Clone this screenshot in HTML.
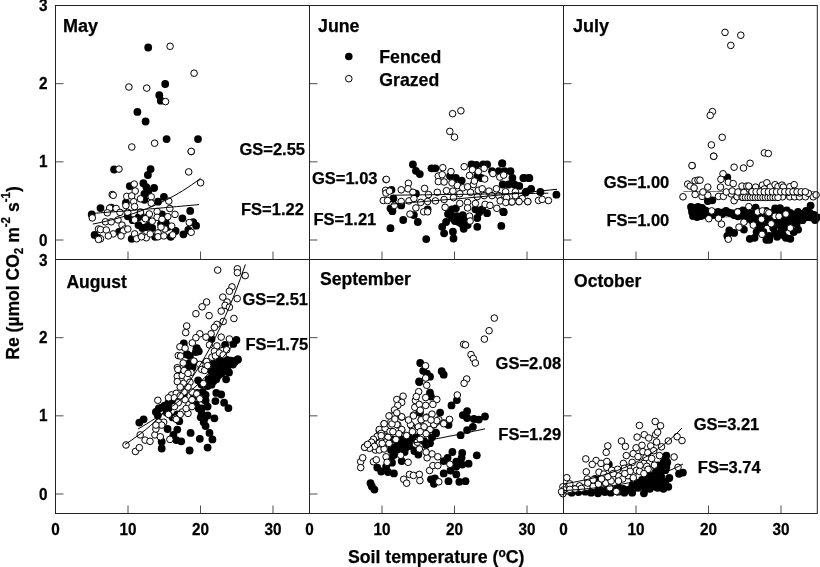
<!DOCTYPE html>
<html lang="en"><head><meta charset="utf-8"><title>Re vs soil temperature</title>
<style>html,body{margin:0;padding:0;background:#fff}svg{display:block}</style></head>
<body>
<svg width="820" height="567" viewBox="0 0 820 567" font-family='"Liberation Sans", Arial, Helvetica, sans-serif' font-weight="bold" fill="#000">
<rect width="820" height="567" fill="#fff"/>
<g id="may">
<g fill="#000">
<circle cx="114.1" cy="169.5" r="3.9"/>
<circle cx="150.6" cy="169.1" r="3.9"/>
<circle cx="147.9" cy="175.0" r="3.9"/>
<circle cx="129.8" cy="186.1" r="3.9"/>
<circle cx="143.4" cy="183.2" r="3.9"/>
<circle cx="146.3" cy="187.1" r="3.9"/>
<circle cx="154.1" cy="188.0" r="3.9"/>
<circle cx="144.4" cy="193.9" r="3.9"/>
<circle cx="148.3" cy="191.0" r="3.9"/>
<circle cx="163.9" cy="196.8" r="3.9"/>
<circle cx="125.9" cy="202.7" r="3.9"/>
<circle cx="158.0" cy="201.7" r="3.9"/>
<circle cx="144.4" cy="199.8" r="3.9"/>
<circle cx="100.5" cy="208.1" r="3.9"/>
<circle cx="190.2" cy="210.9" r="3.9"/>
<circle cx="182.4" cy="218.3" r="3.9"/>
<circle cx="193.2" cy="222.2" r="3.9"/>
<circle cx="196.1" cy="225.7" r="3.9"/>
<circle cx="94.6" cy="234.9" r="3.9"/>
<circle cx="98.5" cy="237.8" r="3.9"/>
<circle cx="131.7" cy="238.8" r="3.9"/>
<circle cx="138.5" cy="225.1" r="3.9"/>
<circle cx="146.3" cy="227.1" r="3.9"/>
<circle cx="152.2" cy="228.0" r="3.9"/>
<circle cx="165.9" cy="223.2" r="3.9"/>
<circle cx="167.8" cy="227.1" r="3.9"/>
<circle cx="175.6" cy="231.0" r="3.9"/>
<circle cx="183.4" cy="234.3" r="3.9"/>
<circle cx="188.3" cy="230.0" r="3.9"/>
<circle cx="170.7" cy="236.8" r="3.9"/>
<circle cx="155.1" cy="236.8" r="3.9"/>
<circle cx="127.8" cy="216.3" r="3.9"/>
<circle cx="132.7" cy="220.2" r="3.9"/>
<circle cx="162.0" cy="214.4" r="3.9"/>
<circle cx="111.2" cy="207.6" r="3.9"/>
<circle cx="140.5" cy="214.4" r="3.9"/>
<circle cx="147.3" cy="217.3" r="3.9"/>
<circle cx="119.0" cy="232.0" r="3.9"/>
<circle cx="91.7" cy="214.4" r="3.9"/>
<circle cx="142.4" cy="228.0" r="3.9"/>
<circle cx="149.3" cy="225.1" r="3.9"/>
<circle cx="161.0" cy="224.1" r="3.9"/>
<circle cx="138.5" cy="217.3" r="3.9"/>
<circle cx="148.2" cy="47.5" r="3.9"/>
<circle cx="165.2" cy="84.0" r="3.9"/>
<circle cx="159.3" cy="95.2" r="3.9"/>
<circle cx="160.8" cy="100.7" r="3.9"/>
<circle cx="137.4" cy="111.9" r="3.9"/>
<circle cx="145.6" cy="121.5" r="3.9"/>
<circle cx="166.6" cy="139.1" r="3.9"/>
<circle cx="198.0" cy="139.1" r="3.9"/>
</g>
<g fill="#fff" stroke="#000" stroke-width="1">
<circle cx="119.0" cy="169.1" r="3.3"/>
<circle cx="191.2" cy="151.6" r="3.3"/>
<circle cx="188.7" cy="171.9" r="3.3"/>
<circle cx="200.6" cy="182.8" r="3.3"/>
<circle cx="134.2" cy="184.1" r="3.3"/>
<circle cx="135.2" cy="191.0" r="3.3"/>
<circle cx="126.8" cy="196.4" r="3.3"/>
<circle cx="131.7" cy="195.9" r="3.3"/>
<circle cx="133.7" cy="201.7" r="3.3"/>
<circle cx="125.9" cy="205.6" r="3.3"/>
<circle cx="134.6" cy="206.6" r="3.3"/>
<circle cx="151.2" cy="196.8" r="3.3"/>
<circle cx="151.2" cy="203.1" r="3.3"/>
<circle cx="168.8" cy="201.1" r="3.3"/>
<circle cx="140.5" cy="198.8" r="3.3"/>
<circle cx="112.2" cy="194.5" r="3.3"/>
<circle cx="113.2" cy="195.3" r="3.3"/>
<circle cx="109.7" cy="208.1" r="3.3"/>
<circle cx="116.1" cy="208.5" r="3.3"/>
<circle cx="107.3" cy="212.8" r="3.3"/>
<circle cx="120.0" cy="212.4" r="3.3"/>
<circle cx="92.3" cy="217.9" r="3.3"/>
<circle cx="127.8" cy="212.4" r="3.3"/>
<circle cx="140.5" cy="212.0" r="3.3"/>
<circle cx="149.3" cy="214.0" r="3.3"/>
<circle cx="157.1" cy="211.5" r="3.3"/>
<circle cx="169.8" cy="208.5" r="3.3"/>
<circle cx="175.0" cy="214.4" r="3.3"/>
<circle cx="167.8" cy="216.7" r="3.3"/>
<circle cx="157.1" cy="217.3" r="3.3"/>
<circle cx="162.0" cy="219.3" r="3.3"/>
<circle cx="145.4" cy="218.7" r="3.3"/>
<circle cx="152.2" cy="221.2" r="3.3"/>
<circle cx="134.6" cy="219.9" r="3.3"/>
<circle cx="105.4" cy="221.8" r="3.3"/>
<circle cx="111.2" cy="221.8" r="3.3"/>
<circle cx="118.0" cy="219.9" r="3.3"/>
<circle cx="122.0" cy="225.1" r="3.3"/>
<circle cx="98.5" cy="229.0" r="3.3"/>
<circle cx="100.5" cy="229.6" r="3.3"/>
<circle cx="106.3" cy="230.0" r="3.3"/>
<circle cx="124.9" cy="229.0" r="3.3"/>
<circle cx="123.3" cy="231.0" r="3.3"/>
<circle cx="127.8" cy="229.0" r="3.3"/>
<circle cx="113.2" cy="233.9" r="3.3"/>
<circle cx="108.3" cy="235.9" r="3.3"/>
<circle cx="100.5" cy="238.8" r="3.3"/>
<circle cx="98.5" cy="239.4" r="3.3"/>
<circle cx="121.0" cy="235.9" r="3.3"/>
<circle cx="134.6" cy="233.9" r="3.3"/>
<circle cx="136.6" cy="238.8" r="3.3"/>
<circle cx="142.4" cy="235.9" r="3.3"/>
<circle cx="146.3" cy="237.8" r="3.3"/>
<circle cx="150.2" cy="233.9" r="3.3"/>
<circle cx="158.0" cy="232.9" r="3.3"/>
<circle cx="158.0" cy="236.8" r="3.3"/>
<circle cx="164.9" cy="229.0" r="3.3"/>
<circle cx="163.9" cy="235.9" r="3.3"/>
<circle cx="171.7" cy="226.1" r="3.3"/>
<circle cx="172.7" cy="234.9" r="3.3"/>
<circle cx="189.3" cy="222.6" r="3.3"/>
<circle cx="191.2" cy="232.3" r="3.3"/>
<circle cx="161.0" cy="227.1" r="3.3"/>
<circle cx="141.5" cy="236.8" r="3.3"/>
<circle cx="170.1" cy="46.3" r="3.3"/>
<circle cx="194.1" cy="73.2" r="3.3"/>
<circle cx="128.9" cy="87.0" r="3.3"/>
<circle cx="146.7" cy="88.1" r="3.3"/>
<circle cx="165.5" cy="101.6" r="3.3"/>
<circle cx="154.6" cy="143.2" r="3.3"/>
<circle cx="131.8" cy="147.0" r="3.3"/>
<circle cx="191.2" cy="151.4" r="3.3"/>
</g>
<polyline fill="none" stroke="#000" stroke-width="1" points="92.7,224.1 97.2,223.2 101.7,222.2 106.2,221.2 110.7,220.1 115.2,218.9 119.7,217.7 124.2,216.4 128.7,215.0 133.2,213.6 137.7,212.0 142.2,210.4 146.7,208.7 151.1,206.9 155.6,204.9 160.1,202.9 164.6,200.7 169.1,198.5 173.6,196.0 178.1,193.5 182.6,190.8 187.1,187.9 191.6,184.9 196.1,181.7 200.6,178.3"/>
<polyline fill="none" stroke="#000" stroke-width="1" points="91.7,213.4 96.2,213.1 100.6,212.8 105.1,212.4 109.6,212.1 114.1,211.8 118.5,211.4 123.0,211.1 127.5,210.7 131.9,210.4 136.4,210.0 140.9,209.7 145.3,209.3 149.8,208.9 154.3,208.6 158.8,208.2 163.2,207.8 167.7,207.4 172.2,207.0 176.6,206.6 181.1,206.2 185.6,205.8 190.1,205.4 194.5,205.0 199.0,204.6"/>
</g>
<g id="jun">
<g fill="#000">
<circle cx="412.9" cy="164.4" r="3.9"/>
<circle cx="415.9" cy="170.8" r="3.9"/>
<circle cx="419.8" cy="174.1" r="3.9"/>
<circle cx="431.5" cy="168.3" r="3.9"/>
<circle cx="435.4" cy="168.3" r="3.9"/>
<circle cx="471.5" cy="164.4" r="3.9"/>
<circle cx="476.3" cy="165.0" r="3.9"/>
<circle cx="483.2" cy="164.4" r="3.9"/>
<circle cx="487.1" cy="164.4" r="3.9"/>
<circle cx="502.3" cy="163.4" r="3.9"/>
<circle cx="492.0" cy="171.2" r="3.9"/>
<circle cx="498.8" cy="171.2" r="3.9"/>
<circle cx="504.6" cy="171.2" r="3.9"/>
<circle cx="510.5" cy="171.2" r="3.9"/>
<circle cx="512.4" cy="178.0" r="3.9"/>
<circle cx="524.1" cy="178.0" r="3.9"/>
<circle cx="529.0" cy="178.0" r="3.9"/>
<circle cx="502.7" cy="184.5" r="3.9"/>
<circle cx="508.5" cy="184.5" r="3.9"/>
<circle cx="514.4" cy="184.5" r="3.9"/>
<circle cx="519.3" cy="185.9" r="3.9"/>
<circle cx="526.1" cy="191.7" r="3.9"/>
<circle cx="450.0" cy="176.1" r="3.9"/>
<circle cx="455.9" cy="178.0" r="3.9"/>
<circle cx="461.7" cy="180.6" r="3.9"/>
<circle cx="477.3" cy="176.1" r="3.9"/>
<circle cx="481.2" cy="178.0" r="3.9"/>
<circle cx="391.5" cy="189.8" r="3.9"/>
<circle cx="393.4" cy="198.5" r="3.9"/>
<circle cx="390.5" cy="208.3" r="3.9"/>
<circle cx="392.4" cy="211.2" r="3.9"/>
<circle cx="401.2" cy="205.4" r="3.9"/>
<circle cx="415.9" cy="193.7" r="3.9"/>
<circle cx="403.2" cy="220.0" r="3.9"/>
<circle cx="390.5" cy="228.2" r="3.9"/>
<circle cx="413.9" cy="215.1" r="3.9"/>
<circle cx="417.8" cy="222.0" r="3.9"/>
<circle cx="427.6" cy="209.3" r="3.9"/>
<circle cx="426.2" cy="239.1" r="3.9"/>
<circle cx="442.2" cy="226.8" r="3.9"/>
<circle cx="444.1" cy="233.3" r="3.9"/>
<circle cx="446.1" cy="222.0" r="3.9"/>
<circle cx="448.0" cy="214.1" r="3.9"/>
<circle cx="452.0" cy="209.3" r="3.9"/>
<circle cx="455.9" cy="208.3" r="3.9"/>
<circle cx="452.9" cy="231.7" r="3.9"/>
<circle cx="453.5" cy="238.5" r="3.9"/>
<circle cx="452.0" cy="218.0" r="3.9"/>
<circle cx="456.8" cy="216.1" r="3.9"/>
<circle cx="458.8" cy="222.0" r="3.9"/>
<circle cx="461.7" cy="223.9" r="3.9"/>
<circle cx="463.7" cy="228.8" r="3.9"/>
<circle cx="465.6" cy="218.0" r="3.9"/>
<circle cx="467.6" cy="224.9" r="3.9"/>
<circle cx="477.3" cy="218.0" r="3.9"/>
<circle cx="477.3" cy="226.8" r="3.9"/>
<circle cx="479.3" cy="212.2" r="3.9"/>
<circle cx="487.1" cy="213.2" r="3.9"/>
<circle cx="503.7" cy="212.2" r="3.9"/>
<circle cx="501.3" cy="225.9" r="3.9"/>
<circle cx="475.4" cy="209.3" r="3.9"/>
<circle cx="482.2" cy="209.3" r="3.9"/>
<circle cx="459.8" cy="218.0" r="3.9"/>
<circle cx="454.9" cy="221.0" r="3.9"/>
<circle cx="462.7" cy="215.1" r="3.9"/>
<circle cx="450.0" cy="213.2" r="3.9"/>
<circle cx="523.3" cy="178.1" r="3.9"/>
<circle cx="529.3" cy="178.1" r="3.9"/>
<circle cx="502.1" cy="163.3" r="3.9"/>
<circle cx="503.3" cy="211.7" r="3.9"/>
<circle cx="531.1" cy="188.9" r="3.9"/>
<circle cx="540.4" cy="192.0" r="3.9"/>
<circle cx="525.6" cy="192.6" r="3.9"/>
<circle cx="556.4" cy="194.7" r="3.9"/>
</g>
<g fill="#fff" stroke="#000" stroke-width="1">
<circle cx="386.0" cy="179.6" r="3.3"/>
<circle cx="408.4" cy="183.3" r="3.3"/>
<circle cx="442.8" cy="167.7" r="3.3"/>
<circle cx="451.0" cy="171.6" r="3.3"/>
<circle cx="464.2" cy="166.7" r="3.3"/>
<circle cx="472.4" cy="169.7" r="3.3"/>
<circle cx="478.3" cy="171.6" r="3.3"/>
<circle cx="484.1" cy="168.3" r="3.3"/>
<circle cx="492.9" cy="173.6" r="3.3"/>
<circle cx="499.8" cy="177.1" r="3.3"/>
<circle cx="503.7" cy="175.1" r="3.3"/>
<circle cx="484.7" cy="179.0" r="3.3"/>
<circle cx="469.5" cy="175.5" r="3.3"/>
<circle cx="438.3" cy="176.1" r="3.3"/>
<circle cx="442.2" cy="174.7" r="3.3"/>
<circle cx="438.3" cy="181.6" r="3.3"/>
<circle cx="444.1" cy="182.0" r="3.3"/>
<circle cx="452.0" cy="182.9" r="3.3"/>
<circle cx="457.4" cy="185.5" r="3.3"/>
<circle cx="462.7" cy="187.8" r="3.3"/>
<circle cx="467.6" cy="186.8" r="3.3"/>
<circle cx="473.4" cy="184.5" r="3.3"/>
<circle cx="474.4" cy="181.0" r="3.3"/>
<circle cx="478.3" cy="190.3" r="3.3"/>
<circle cx="482.2" cy="188.8" r="3.3"/>
<circle cx="489.0" cy="191.1" r="3.3"/>
<circle cx="496.4" cy="188.8" r="3.3"/>
<circle cx="505.6" cy="191.7" r="3.3"/>
<circle cx="515.4" cy="191.7" r="3.3"/>
<circle cx="385.6" cy="190.3" r="3.3"/>
<circle cx="386.0" cy="193.1" r="3.3"/>
<circle cx="389.5" cy="191.1" r="3.3"/>
<circle cx="401.2" cy="189.8" r="3.3"/>
<circle cx="408.0" cy="188.8" r="3.3"/>
<circle cx="412.9" cy="192.3" r="3.3"/>
<circle cx="424.6" cy="188.4" r="3.3"/>
<circle cx="428.5" cy="194.6" r="3.3"/>
<circle cx="437.3" cy="192.3" r="3.3"/>
<circle cx="446.5" cy="190.7" r="3.3"/>
<circle cx="452.9" cy="191.1" r="3.3"/>
<circle cx="459.8" cy="193.7" r="3.3"/>
<circle cx="470.5" cy="192.3" r="3.3"/>
<circle cx="477.3" cy="196.6" r="3.3"/>
<circle cx="484.1" cy="195.6" r="3.3"/>
<circle cx="492.0" cy="195.6" r="3.3"/>
<circle cx="498.8" cy="195.6" r="3.3"/>
<circle cx="506.6" cy="197.6" r="3.3"/>
<circle cx="515.4" cy="195.6" r="3.3"/>
<circle cx="522.2" cy="198.5" r="3.3"/>
<circle cx="383.3" cy="200.5" r="3.3"/>
<circle cx="387.6" cy="200.5" r="3.3"/>
<circle cx="394.4" cy="205.4" r="3.3"/>
<circle cx="401.2" cy="201.5" r="3.3"/>
<circle cx="409.0" cy="200.9" r="3.3"/>
<circle cx="413.9" cy="198.5" r="3.3"/>
<circle cx="420.7" cy="202.4" r="3.3"/>
<circle cx="427.6" cy="201.5" r="3.3"/>
<circle cx="435.4" cy="200.9" r="3.3"/>
<circle cx="444.1" cy="199.5" r="3.3"/>
<circle cx="453.5" cy="197.6" r="3.3"/>
<circle cx="459.8" cy="203.4" r="3.3"/>
<circle cx="467.6" cy="202.4" r="3.3"/>
<circle cx="475.4" cy="203.4" r="3.3"/>
<circle cx="485.1" cy="204.4" r="3.3"/>
<circle cx="490.0" cy="205.4" r="3.3"/>
<circle cx="496.8" cy="208.3" r="3.3"/>
<circle cx="500.7" cy="200.5" r="3.3"/>
<circle cx="511.5" cy="202.0" r="3.3"/>
<circle cx="518.7" cy="201.5" r="3.3"/>
<circle cx="527.7" cy="201.5" r="3.3"/>
<circle cx="415.9" cy="207.9" r="3.3"/>
<circle cx="410.0" cy="214.1" r="3.3"/>
<circle cx="423.7" cy="211.8" r="3.3"/>
<circle cx="427.6" cy="211.8" r="3.3"/>
<circle cx="445.1" cy="207.3" r="3.3"/>
<circle cx="467.6" cy="207.9" r="3.3"/>
<circle cx="469.5" cy="216.1" r="3.3"/>
<circle cx="470.1" cy="221.0" r="3.3"/>
<circle cx="452.6" cy="113.7" r="3.3"/>
<circle cx="460.9" cy="110.8" r="3.3"/>
<circle cx="449.8" cy="131.4" r="3.3"/>
<circle cx="454.5" cy="137.1" r="3.3"/>
<circle cx="386.3" cy="179.4" r="3.3"/>
<circle cx="500.2" cy="200.9" r="3.3"/>
<circle cx="505.8" cy="202.5" r="3.3"/>
<circle cx="512.0" cy="201.9" r="3.3"/>
<circle cx="519.1" cy="201.6" r="3.3"/>
<circle cx="527.8" cy="201.6" r="3.3"/>
<circle cx="538.5" cy="200.4" r="3.3"/>
<circle cx="548.4" cy="200.6" r="3.3"/>
<circle cx="542.2" cy="199.4" r="3.3"/>
</g>
<polyline fill="none" stroke="#000" stroke-width="1" points="394.5,195.2 400.9,195.1 407.3,195.0 413.7,195.0 420.1,194.9 426.6,194.8 433.0,194.7 439.4,194.6 445.8,194.5 452.2,194.5 458.6,194.4 465.0,194.3 471.4,194.2 477.9,194.1 484.3,194.0 490.7,194.0 497.1,193.9 503.5,193.8 509.9,193.7 516.3,193.6 522.8,193.5 529.2,193.5 535.6,193.4 542.0,193.3 548.4,193.2"/>
<polyline fill="none" stroke="#000" stroke-width="1" points="392.0,204.0 398.9,203.5 405.8,203.0 412.6,202.4 419.5,201.9 426.4,201.3 433.2,200.8 440.1,200.2 447.0,199.6 453.9,199.1 460.8,198.5 467.6,197.9 474.5,197.3 481.4,196.7 488.2,196.0 495.1,195.4 502.0,194.8 508.9,194.1 515.8,193.5 522.6,192.8 529.5,192.1 536.4,191.4 543.2,190.7 550.1,190.0 557.0,189.3"/>
</g>
<g id="jul">
<polyline fill="none" stroke="#777" stroke-width="1" points="691.0,216.9 696.2,216.9 701.4,216.9 706.6,216.9 711.8,216.9 717.0,216.9 722.2,216.9 727.5,216.9 732.7,216.9 737.9,216.9 743.1,216.9 748.3,216.9 753.5,216.9 758.7,216.9 763.9,216.9 769.1,216.9 774.3,216.9 779.5,216.9 784.8,216.9 790.0,216.9 795.2,216.9 800.4,216.9 805.6,216.9 810.8,216.9 816.0,216.9"/>
<g fill="#000">
<circle cx="727.3" cy="177.3" r="3.9"/>
<circle cx="707.8" cy="201.1" r="3.9"/>
<circle cx="712.3" cy="200.3" r="3.9"/>
<circle cx="692.2" cy="208.9" r="3.9"/>
<circle cx="697.1" cy="208.5" r="3.9"/>
<circle cx="702.0" cy="208.5" r="3.9"/>
<circle cx="695.1" cy="212.4" r="3.9"/>
<circle cx="700.0" cy="213.4" r="3.9"/>
<circle cx="704.9" cy="214.4" r="3.9"/>
<circle cx="709.8" cy="215.4" r="3.9"/>
<circle cx="695.1" cy="215.4" r="3.9"/>
<circle cx="723.4" cy="212.4" r="3.9"/>
<circle cx="728.3" cy="212.4" r="3.9"/>
<circle cx="733.2" cy="213.4" r="3.9"/>
<circle cx="738.0" cy="216.3" r="3.9"/>
<circle cx="742.9" cy="210.5" r="3.9"/>
<circle cx="745.9" cy="212.4" r="3.9"/>
<circle cx="749.8" cy="214.4" r="3.9"/>
<circle cx="755.6" cy="207.6" r="3.9"/>
<circle cx="753.7" cy="216.3" r="3.9"/>
<circle cx="759.5" cy="216.3" r="3.9"/>
<circle cx="765.4" cy="216.3" r="3.9"/>
<circle cx="770.2" cy="214.4" r="3.9"/>
<circle cx="775.1" cy="208.5" r="3.9"/>
<circle cx="780.0" cy="208.1" r="3.9"/>
<circle cx="781.0" cy="212.4" r="3.9"/>
<circle cx="786.8" cy="210.5" r="3.9"/>
<circle cx="790.7" cy="213.4" r="3.9"/>
<circle cx="796.6" cy="215.4" r="3.9"/>
<circle cx="801.5" cy="216.3" r="3.9"/>
<circle cx="806.0" cy="212.4" r="3.9"/>
<circle cx="810.6" cy="205.6" r="3.9"/>
<circle cx="810.2" cy="217.3" r="3.9"/>
<circle cx="814.1" cy="216.3" r="3.9"/>
<circle cx="817.1" cy="217.3" r="3.9"/>
<circle cx="794.6" cy="222.2" r="3.9"/>
<circle cx="788.8" cy="221.2" r="3.9"/>
<circle cx="782.9" cy="221.2" r="3.9"/>
<circle cx="777.1" cy="220.2" r="3.9"/>
<circle cx="802.4" cy="220.2" r="3.9"/>
<circle cx="729.3" cy="230.4" r="3.9"/>
<circle cx="734.1" cy="232.9" r="3.9"/>
<circle cx="727.3" cy="235.9" r="3.9"/>
<circle cx="743.9" cy="229.6" r="3.9"/>
<circle cx="749.8" cy="238.8" r="3.9"/>
<circle cx="754.6" cy="237.8" r="3.9"/>
<circle cx="756.6" cy="232.0" r="3.9"/>
<circle cx="759.5" cy="228.0" r="3.9"/>
<circle cx="761.5" cy="225.1" r="3.9"/>
<circle cx="766.3" cy="239.8" r="3.9"/>
<circle cx="769.3" cy="235.9" r="3.9"/>
<circle cx="769.3" cy="239.8" r="3.9"/>
<circle cx="775.1" cy="232.9" r="3.9"/>
<circle cx="781.0" cy="232.0" r="3.9"/>
<circle cx="783.9" cy="228.0" r="3.9"/>
<circle cx="785.9" cy="237.8" r="3.9"/>
<circle cx="790.3" cy="238.8" r="3.9"/>
<circle cx="793.7" cy="232.0" r="3.9"/>
<circle cx="798.1" cy="229.6" r="3.9"/>
<circle cx="751.7" cy="220.2" r="3.9"/>
<circle cx="765.4" cy="222.2" r="3.9"/>
<circle cx="784.9" cy="224.1" r="3.9"/>
<circle cx="714.6" cy="214.4" r="3.9"/>
<circle cx="718.5" cy="213.4" r="3.9"/>
<circle cx="742.0" cy="215.4" r="3.9"/>
<circle cx="746.8" cy="217.3" r="3.9"/>
<circle cx="775.1" cy="215.4" r="3.9"/>
<circle cx="784.9" cy="216.3" r="3.9"/>
<circle cx="792.7" cy="217.3" r="3.9"/>
<circle cx="798.5" cy="217.3" r="3.9"/>
<circle cx="806.3" cy="217.3" r="3.9"/>
<circle cx="699.0" cy="210.5" r="3.9"/>
<circle cx="693.2" cy="211.5" r="3.9"/>
<circle cx="704.9" cy="210.5" r="3.9"/>
<circle cx="757.6" cy="221.2" r="3.9"/>
<circle cx="771.2" cy="219.3" r="3.9"/>
<circle cx="779.0" cy="225.1" r="3.9"/>
<circle cx="773.2" cy="228.0" r="3.9"/>
<circle cx="763.4" cy="232.0" r="3.9"/>
<circle cx="777.1" cy="236.8" r="3.9"/>
<circle cx="782.9" cy="234.9" r="3.9"/>
<circle cx="796.6" cy="224.1" r="3.9"/>
<circle cx="691.0" cy="207.0" r="3.9"/>
<circle cx="694.0" cy="208.0" r="3.9"/>
<circle cx="698.0" cy="207.0" r="3.9"/>
<circle cx="702.0" cy="208.0" r="3.9"/>
<circle cx="692.0" cy="212.0" r="3.9"/>
<circle cx="696.0" cy="213.0" r="3.9"/>
<circle cx="700.0" cy="213.0" r="3.9"/>
<circle cx="704.0" cy="212.0" r="3.9"/>
<circle cx="693.0" cy="216.0" r="3.9"/>
<circle cx="697.0" cy="217.0" r="3.9"/>
<circle cx="701.0" cy="216.0" r="3.9"/>
<circle cx="706.0" cy="215.0" r="3.9"/>
<circle cx="706.0" cy="211.0" r="3.9"/>
<circle cx="710.0" cy="213.0" r="3.9"/>
<circle cx="714.0" cy="215.0" r="3.9"/>
<circle cx="718.0" cy="212.0" r="3.9"/>
<circle cx="722.0" cy="214.0" r="3.9"/>
<circle cx="726.0" cy="211.0" r="3.9"/>
<circle cx="730.0" cy="213.0" r="3.9"/>
<circle cx="734.0" cy="215.0" r="3.9"/>
<circle cx="738.0" cy="212.0" r="3.9"/>
<circle cx="742.0" cy="214.0" r="3.9"/>
<circle cx="746.0" cy="211.0" r="3.9"/>
<circle cx="750.0" cy="213.0" r="3.9"/>
<circle cx="754.0" cy="215.0" r="3.9"/>
<circle cx="758.0" cy="212.0" r="3.9"/>
<circle cx="762.0" cy="214.0" r="3.9"/>
<circle cx="766.0" cy="211.0" r="3.9"/>
<circle cx="770.0" cy="213.0" r="3.9"/>
<circle cx="774.0" cy="215.0" r="3.9"/>
<circle cx="778.0" cy="212.0" r="3.9"/>
<circle cx="782.0" cy="214.0" r="3.9"/>
<circle cx="786.0" cy="211.0" r="3.9"/>
<circle cx="790.0" cy="213.0" r="3.9"/>
<circle cx="794.0" cy="215.0" r="3.9"/>
<circle cx="798.0" cy="212.0" r="3.9"/>
<circle cx="802.0" cy="214.0" r="3.9"/>
<circle cx="806.0" cy="211.0" r="3.9"/>
<circle cx="810.0" cy="213.0" r="3.9"/>
<circle cx="814.0" cy="215.0" r="3.9"/>
<circle cx="740.0" cy="215.0" r="3.9"/>
<circle cx="745.0" cy="220.0" r="3.9"/>
<circle cx="750.0" cy="218.0" r="3.9"/>
<circle cx="755.0" cy="216.0" r="3.9"/>
<circle cx="760.0" cy="221.0" r="3.9"/>
<circle cx="765.0" cy="219.0" r="3.9"/>
<circle cx="770.0" cy="217.0" r="3.9"/>
<circle cx="775.0" cy="215.0" r="3.9"/>
<circle cx="780.0" cy="220.0" r="3.9"/>
<circle cx="785.0" cy="218.0" r="3.9"/>
<circle cx="790.0" cy="216.0" r="3.9"/>
<circle cx="795.0" cy="221.0" r="3.9"/>
<circle cx="800.0" cy="219.0" r="3.9"/>
<circle cx="805.0" cy="217.0" r="3.9"/>
<circle cx="810.0" cy="215.0" r="3.9"/>
<circle cx="815.0" cy="220.0" r="3.9"/>
</g>
<polyline fill="none" stroke="#777" stroke-width="1" points="683.4,191.5 688.9,191.5 694.4,191.5 700.0,191.5 705.5,191.5 711.0,191.5 716.5,191.5 722.1,191.5 727.6,191.5 733.1,191.5 738.6,191.5 744.2,191.5 749.7,191.5 755.2,191.5 760.8,191.5 766.3,191.5 771.8,191.5 777.3,191.5 782.9,191.5 788.4,191.5 793.9,191.5 799.4,191.5 805.0,191.5 810.5,191.5 816.0,191.5"/>
<g fill="#fff" stroke="#000" stroke-width="1">
<circle cx="713.7" cy="156.2" r="3.3"/>
<circle cx="692.2" cy="165.6" r="3.3"/>
<circle cx="734.1" cy="167.2" r="3.3"/>
<circle cx="743.5" cy="168.0" r="3.3"/>
<circle cx="750.1" cy="163.3" r="3.3"/>
<circle cx="764.4" cy="152.9" r="3.3"/>
<circle cx="768.3" cy="153.5" r="3.3"/>
<circle cx="723.0" cy="173.8" r="3.3"/>
<circle cx="720.9" cy="179.3" r="3.3"/>
<circle cx="695.1" cy="180.8" r="3.3"/>
<circle cx="698.0" cy="180.2" r="3.3"/>
<circle cx="700.0" cy="180.2" r="3.3"/>
<circle cx="687.7" cy="184.1" r="3.3"/>
<circle cx="690.2" cy="186.1" r="3.3"/>
<circle cx="694.1" cy="188.0" r="3.3"/>
<circle cx="728.3" cy="182.2" r="3.3"/>
<circle cx="733.2" cy="183.6" r="3.3"/>
<circle cx="707.8" cy="187.1" r="3.3"/>
<circle cx="720.5" cy="187.1" r="3.3"/>
<circle cx="742.0" cy="186.1" r="3.3"/>
<circle cx="746.8" cy="186.1" r="3.3"/>
<circle cx="748.8" cy="186.1" r="3.3"/>
<circle cx="755.6" cy="187.1" r="3.3"/>
<circle cx="762.4" cy="185.1" r="3.3"/>
<circle cx="766.9" cy="182.8" r="3.3"/>
<circle cx="770.2" cy="187.1" r="3.3"/>
<circle cx="775.1" cy="184.7" r="3.3"/>
<circle cx="778.0" cy="186.7" r="3.3"/>
<circle cx="782.0" cy="185.1" r="3.3"/>
<circle cx="783.3" cy="187.1" r="3.3"/>
<circle cx="789.8" cy="186.7" r="3.3"/>
<circle cx="794.2" cy="184.7" r="3.3"/>
<circle cx="764.4" cy="189.0" r="3.3"/>
<circle cx="683.0" cy="196.8" r="3.3"/>
<circle cx="695.1" cy="194.5" r="3.3"/>
<circle cx="702.0" cy="196.4" r="3.3"/>
<circle cx="707.8" cy="195.3" r="3.3"/>
<circle cx="718.5" cy="196.4" r="3.3"/>
<circle cx="723.4" cy="196.4" r="3.3"/>
<circle cx="731.2" cy="193.9" r="3.3"/>
<circle cx="734.1" cy="200.7" r="3.3"/>
<circle cx="737.1" cy="196.8" r="3.3"/>
<circle cx="742.0" cy="197.2" r="3.3"/>
<circle cx="745.9" cy="197.2" r="3.3"/>
<circle cx="749.8" cy="197.2" r="3.3"/>
<circle cx="753.7" cy="197.2" r="3.3"/>
<circle cx="757.6" cy="197.2" r="3.3"/>
<circle cx="762.4" cy="197.2" r="3.3"/>
<circle cx="767.3" cy="197.2" r="3.3"/>
<circle cx="772.2" cy="197.2" r="3.3"/>
<circle cx="777.1" cy="197.2" r="3.3"/>
<circle cx="782.5" cy="196.8" r="3.3"/>
<circle cx="789.8" cy="196.8" r="3.3"/>
<circle cx="794.6" cy="196.8" r="3.3"/>
<circle cx="799.5" cy="196.8" r="3.3"/>
<circle cx="805.4" cy="196.8" r="3.3"/>
<circle cx="813.2" cy="196.8" r="3.3"/>
<circle cx="816.1" cy="194.9" r="3.3"/>
<circle cx="702.9" cy="192.0" r="3.3"/>
<circle cx="726.3" cy="192.0" r="3.3"/>
<circle cx="732.2" cy="191.0" r="3.3"/>
<circle cx="738.0" cy="192.0" r="3.3"/>
<circle cx="743.9" cy="192.5" r="3.3"/>
<circle cx="751.7" cy="192.0" r="3.3"/>
<circle cx="759.5" cy="192.5" r="3.3"/>
<circle cx="766.3" cy="192.0" r="3.3"/>
<circle cx="773.2" cy="192.0" r="3.3"/>
<circle cx="781.0" cy="192.0" r="3.3"/>
<circle cx="787.8" cy="192.5" r="3.3"/>
<circle cx="794.6" cy="192.0" r="3.3"/>
<circle cx="799.5" cy="192.9" r="3.3"/>
<circle cx="808.3" cy="193.3" r="3.3"/>
<circle cx="748.8" cy="206.6" r="3.3"/>
<circle cx="711.7" cy="210.9" r="3.3"/>
<circle cx="737.7" cy="212.0" r="3.3"/>
<circle cx="708.8" cy="218.7" r="3.3"/>
<circle cx="718.5" cy="218.3" r="3.3"/>
<circle cx="721.5" cy="224.1" r="3.3"/>
<circle cx="743.9" cy="222.2" r="3.3"/>
<circle cx="739.0" cy="227.1" r="3.3"/>
<circle cx="753.3" cy="225.1" r="3.3"/>
<circle cx="728.3" cy="239.2" r="3.3"/>
<circle cx="762.0" cy="234.3" r="3.3"/>
<circle cx="757.6" cy="212.0" r="3.3"/>
<circle cx="762.4" cy="210.9" r="3.3"/>
<circle cx="767.3" cy="212.0" r="3.3"/>
<circle cx="768.9" cy="212.8" r="3.3"/>
<circle cx="761.5" cy="219.3" r="3.3"/>
<circle cx="771.2" cy="223.8" r="3.3"/>
<circle cx="775.1" cy="216.3" r="3.3"/>
<circle cx="785.9" cy="214.0" r="3.3"/>
<circle cx="790.3" cy="228.0" r="3.3"/>
<circle cx="779.0" cy="216.3" r="3.3"/>
<circle cx="725.0" cy="32.4" r="3.3"/>
<circle cx="740.8" cy="35.2" r="3.3"/>
<circle cx="730.8" cy="45.4" r="3.3"/>
<circle cx="712.4" cy="111.6" r="3.3"/>
<circle cx="710.2" cy="115.4" r="3.3"/>
<circle cx="722.2" cy="137.3" r="3.3"/>
<circle cx="711.4" cy="144.9" r="3.3"/>
<circle cx="713.7" cy="156.3" r="3.3"/>
<circle cx="692.0" cy="165.6" r="3.3"/>
<circle cx="743.0" cy="197.4" r="3.3"/>
<circle cx="745.5" cy="197.4" r="3.3"/>
<circle cx="748.0" cy="197.4" r="3.3"/>
<circle cx="750.5" cy="197.4" r="3.3"/>
<circle cx="753.0" cy="197.4" r="3.3"/>
<circle cx="755.5" cy="197.4" r="3.3"/>
<circle cx="758.0" cy="197.4" r="3.3"/>
<circle cx="760.5" cy="197.4" r="3.3"/>
<circle cx="763.0" cy="197.4" r="3.3"/>
<circle cx="765.5" cy="197.4" r="3.3"/>
<circle cx="768.0" cy="197.4" r="3.3"/>
<circle cx="770.5" cy="197.4" r="3.3"/>
<circle cx="773.0" cy="197.4" r="3.3"/>
<circle cx="775.5" cy="197.4" r="3.3"/>
<circle cx="778.0" cy="197.4" r="3.3"/>
<circle cx="752.0" cy="191.8" r="3.3"/>
<circle cx="756.1" cy="191.8" r="3.3"/>
<circle cx="760.2" cy="191.8" r="3.3"/>
<circle cx="764.3" cy="191.8" r="3.3"/>
<circle cx="768.4" cy="191.8" r="3.3"/>
<circle cx="772.5" cy="191.8" r="3.3"/>
<circle cx="776.6" cy="191.8" r="3.3"/>
<circle cx="780.7" cy="191.8" r="3.3"/>
<circle cx="784.8" cy="191.8" r="3.3"/>
<circle cx="788.9" cy="191.8" r="3.3"/>
<circle cx="793.0" cy="191.8" r="3.3"/>
<circle cx="797.1" cy="191.8" r="3.3"/>
<circle cx="801.2" cy="191.8" r="3.3"/>
<circle cx="805.3" cy="191.8" r="3.3"/>
</g>
</g>
<g id="aug">
<g fill="#000">
<circle cx="183.8" cy="343.5" r="3.9"/>
<circle cx="236.4" cy="340.0" r="3.9"/>
<circle cx="233.3" cy="343.9" r="3.9"/>
<circle cx="225.1" cy="344.9" r="3.9"/>
<circle cx="196.8" cy="348.2" r="3.9"/>
<circle cx="198.8" cy="351.3" r="3.9"/>
<circle cx="187.1" cy="354.6" r="3.9"/>
<circle cx="189.0" cy="363.4" r="3.9"/>
<circle cx="237.8" cy="359.5" r="3.9"/>
<circle cx="233.9" cy="361.5" r="3.9"/>
<circle cx="227.1" cy="362.4" r="3.9"/>
<circle cx="221.2" cy="361.5" r="3.9"/>
<circle cx="215.4" cy="365.4" r="3.9"/>
<circle cx="211.5" cy="339.0" r="3.9"/>
<circle cx="139.3" cy="422.6" r="3.9"/>
<circle cx="143.6" cy="419.3" r="3.9"/>
<circle cx="155.9" cy="412.0" r="3.9"/>
<circle cx="161.7" cy="407.6" r="3.9"/>
<circle cx="168.5" cy="402.7" r="3.9"/>
<circle cx="161.7" cy="441.7" r="3.9"/>
<circle cx="161.7" cy="448.5" r="3.9"/>
<circle cx="167.6" cy="429.0" r="3.9"/>
<circle cx="177.3" cy="429.6" r="3.9"/>
<circle cx="173.4" cy="434.9" r="3.9"/>
<circle cx="176.3" cy="440.1" r="3.9"/>
<circle cx="181.2" cy="441.3" r="3.9"/>
<circle cx="179.3" cy="421.2" r="3.9"/>
<circle cx="190.6" cy="432.9" r="3.9"/>
<circle cx="189.6" cy="450.5" r="3.9"/>
<circle cx="199.8" cy="438.8" r="3.9"/>
<circle cx="207.6" cy="447.6" r="3.9"/>
<circle cx="212.4" cy="439.4" r="3.9"/>
<circle cx="209.5" cy="432.9" r="3.9"/>
<circle cx="205.6" cy="426.1" r="3.9"/>
<circle cx="204.6" cy="418.3" r="3.9"/>
<circle cx="207.6" cy="415.4" r="3.9"/>
<circle cx="214.4" cy="418.3" r="3.9"/>
<circle cx="201.7" cy="414.0" r="3.9"/>
<circle cx="201.7" cy="408.5" r="3.9"/>
<circle cx="205.6" cy="400.7" r="3.9"/>
<circle cx="202.7" cy="392.0" r="3.9"/>
<circle cx="216.3" cy="392.9" r="3.9"/>
<circle cx="221.2" cy="394.5" r="3.9"/>
<circle cx="215.4" cy="401.1" r="3.9"/>
<circle cx="224.1" cy="402.7" r="3.9"/>
<circle cx="228.4" cy="408.1" r="3.9"/>
<circle cx="226.1" cy="379.3" r="3.9"/>
<circle cx="211.5" cy="384.7" r="3.9"/>
<circle cx="216.3" cy="379.3" r="3.9"/>
<circle cx="221.2" cy="373.4" r="3.9"/>
<circle cx="227.1" cy="367.6" r="3.9"/>
<circle cx="232.9" cy="364.6" r="3.9"/>
<circle cx="237.8" cy="359.4" r="3.9"/>
<circle cx="227.1" cy="359.8" r="3.9"/>
<circle cx="221.2" cy="361.7" r="3.9"/>
<circle cx="215.4" cy="367.6" r="3.9"/>
<circle cx="211.5" cy="371.5" r="3.9"/>
<circle cx="211.5" cy="377.3" r="3.9"/>
<circle cx="195.9" cy="352.0" r="3.9"/>
<circle cx="188.0" cy="364.6" r="3.9"/>
<circle cx="190.0" cy="355.9" r="3.9"/>
<circle cx="219.3" cy="368.5" r="3.9"/>
<circle cx="224.1" cy="371.5" r="3.9"/>
<circle cx="218.3" cy="375.4" r="3.9"/>
<circle cx="223.2" cy="364.6" r="3.9"/>
<circle cx="231.0" cy="360.7" r="3.9"/>
<circle cx="234.9" cy="361.7" r="3.9"/>
<circle cx="216.3" cy="372.4" r="3.9"/>
<circle cx="213.4" cy="381.2" r="3.9"/>
<circle cx="208.5" cy="379.3" r="3.9"/>
<circle cx="207.6" cy="386.1" r="3.9"/>
<circle cx="229.0" cy="372.4" r="3.9"/>
<circle cx="213.4" cy="363.7" r="3.9"/>
<circle cx="219.3" cy="358.8" r="3.9"/>
<circle cx="158.8" cy="408.5" r="3.9"/>
<circle cx="164.6" cy="405.6" r="3.9"/>
<circle cx="168.5" cy="408.5" r="3.9"/>
<circle cx="172.4" cy="400.7" r="3.9"/>
<circle cx="157.8" cy="415.4" r="3.9"/>
<circle cx="166.6" cy="412.4" r="3.9"/>
<circle cx="172.4" cy="417.3" r="3.9"/>
<circle cx="177.3" cy="414.4" r="3.9"/>
<circle cx="195.9" cy="404.6" r="3.9"/>
<circle cx="198.8" cy="408.5" r="3.9"/>
<circle cx="200.7" cy="417.3" r="3.9"/>
<circle cx="203.7" cy="422.2" r="3.9"/>
<circle cx="193.9" cy="396.8" r="3.9"/>
<circle cx="205.6" cy="394.9" r="3.9"/>
<circle cx="207.6" cy="406.6" r="3.9"/>
<circle cx="196.5" cy="348.6" r="3.9"/>
<circle cx="187.0" cy="354.1" r="3.9"/>
<circle cx="188.6" cy="366.0" r="3.9"/>
<circle cx="192.5" cy="367.6" r="3.9"/>
<circle cx="194.1" cy="362.1" r="3.9"/>
<circle cx="198.1" cy="380.3" r="3.9"/>
<circle cx="180.6" cy="373.2" r="3.9"/>
<circle cx="201.3" cy="384.3" r="3.9"/>
<circle cx="197.3" cy="393.0" r="3.9"/>
<circle cx="204.4" cy="399.4" r="3.9"/>
<circle cx="183.8" cy="394.6" r="3.9"/>
</g>
<g fill="#fff" stroke="#000" stroke-width="1">
<circle cx="217.7" cy="270.1" r="3.3"/>
<circle cx="237.4" cy="268.8" r="3.3"/>
<circle cx="237.4" cy="272.7" r="3.3"/>
<circle cx="245.2" cy="275.6" r="3.3"/>
<circle cx="232.0" cy="286.9" r="3.3"/>
<circle cx="229.4" cy="291.2" r="3.3"/>
<circle cx="222.8" cy="297.1" r="3.3"/>
<circle cx="237.2" cy="298.6" r="3.3"/>
<circle cx="206.6" cy="302.0" r="3.3"/>
<circle cx="202.1" cy="306.8" r="3.3"/>
<circle cx="227.1" cy="302.0" r="3.3"/>
<circle cx="225.1" cy="305.3" r="3.3"/>
<circle cx="229.4" cy="307.2" r="3.3"/>
<circle cx="221.2" cy="311.1" r="3.3"/>
<circle cx="195.9" cy="313.7" r="3.3"/>
<circle cx="209.1" cy="315.6" r="3.3"/>
<circle cx="233.9" cy="318.5" r="3.3"/>
<circle cx="223.2" cy="321.5" r="3.3"/>
<circle cx="216.9" cy="324.4" r="3.3"/>
<circle cx="214.4" cy="327.3" r="3.3"/>
<circle cx="186.7" cy="326.0" r="3.3"/>
<circle cx="185.7" cy="332.6" r="3.3"/>
<circle cx="199.8" cy="333.8" r="3.3"/>
<circle cx="211.1" cy="333.8" r="3.3"/>
<circle cx="195.9" cy="337.7" r="3.3"/>
<circle cx="206.0" cy="337.1" r="3.3"/>
<circle cx="221.2" cy="337.1" r="3.3"/>
<circle cx="229.4" cy="339.0" r="3.3"/>
<circle cx="192.3" cy="342.9" r="3.3"/>
<circle cx="179.9" cy="346.8" r="3.3"/>
<circle cx="185.1" cy="348.2" r="3.3"/>
<circle cx="209.5" cy="344.9" r="3.3"/>
<circle cx="216.9" cy="345.9" r="3.3"/>
<circle cx="214.4" cy="351.3" r="3.3"/>
<circle cx="222.2" cy="350.7" r="3.3"/>
<circle cx="226.7" cy="349.8" r="3.3"/>
<circle cx="178.3" cy="355.6" r="3.3"/>
<circle cx="180.6" cy="356.0" r="3.3"/>
<circle cx="193.9" cy="361.1" r="3.3"/>
<circle cx="211.9" cy="357.2" r="3.3"/>
<circle cx="206.6" cy="361.5" r="3.3"/>
<circle cx="183.2" cy="363.0" r="3.3"/>
<circle cx="177.3" cy="367.7" r="3.3"/>
<circle cx="199.8" cy="364.4" r="3.3"/>
<circle cx="126.0" cy="445.0" r="3.3"/>
<circle cx="135.4" cy="451.5" r="3.3"/>
<circle cx="139.3" cy="447.6" r="3.3"/>
<circle cx="140.2" cy="434.9" r="3.3"/>
<circle cx="145.1" cy="440.1" r="3.3"/>
<circle cx="150.0" cy="441.3" r="3.3"/>
<circle cx="154.9" cy="434.9" r="3.3"/>
<circle cx="155.9" cy="429.0" r="3.3"/>
<circle cx="160.3" cy="436.8" r="3.3"/>
<circle cx="169.9" cy="439.4" r="3.3"/>
<circle cx="157.8" cy="400.3" r="3.3"/>
<circle cx="171.5" cy="394.9" r="3.3"/>
<circle cx="176.3" cy="393.3" r="3.3"/>
<circle cx="177.9" cy="369.5" r="3.3"/>
<circle cx="177.3" cy="376.3" r="3.3"/>
<circle cx="177.3" cy="381.6" r="3.3"/>
<circle cx="182.2" cy="375.4" r="3.3"/>
<circle cx="183.8" cy="383.2" r="3.3"/>
<circle cx="187.1" cy="378.3" r="3.3"/>
<circle cx="190.0" cy="382.2" r="3.3"/>
<circle cx="184.1" cy="392.0" r="3.3"/>
<circle cx="192.0" cy="392.0" r="3.3"/>
<circle cx="196.8" cy="393.9" r="3.3"/>
<circle cx="199.8" cy="398.8" r="3.3"/>
<circle cx="185.1" cy="399.8" r="3.3"/>
<circle cx="189.0" cy="404.6" r="3.3"/>
<circle cx="182.2" cy="412.0" r="3.3"/>
<circle cx="188.0" cy="413.4" r="3.3"/>
<circle cx="175.4" cy="418.3" r="3.3"/>
<circle cx="163.7" cy="422.2" r="3.3"/>
<circle cx="158.4" cy="422.2" r="3.3"/>
<circle cx="201.7" cy="369.5" r="3.3"/>
<circle cx="204.6" cy="370.5" r="3.3"/>
<circle cx="203.3" cy="383.6" r="3.3"/>
<circle cx="191.0" cy="372.4" r="3.3"/>
<circle cx="192.0" cy="399.8" r="3.3"/>
<circle cx="168.5" cy="397.8" r="3.3"/>
<circle cx="174.4" cy="397.8" r="3.3"/>
<circle cx="180.2" cy="395.9" r="3.3"/>
<circle cx="178.3" cy="402.7" r="3.3"/>
<circle cx="174.4" cy="406.6" r="3.3"/>
<circle cx="186.1" cy="408.5" r="3.3"/>
<circle cx="192.0" cy="406.6" r="3.3"/>
<circle cx="180.2" cy="414.4" r="3.3"/>
<circle cx="168.5" cy="414.4" r="3.3"/>
<circle cx="161.7" cy="425.1" r="3.3"/>
<circle cx="155.9" cy="425.1" r="3.3"/>
<circle cx="176.3" cy="419.3" r="3.3"/>
<circle cx="188.0" cy="387.1" r="3.3"/>
<circle cx="180.2" cy="387.1" r="3.3"/>
<circle cx="184.1" cy="370.5" r="3.3"/>
<circle cx="188.0" cy="373.4" r="3.3"/>
<circle cx="207.6" cy="365.6" r="3.3"/>
<circle cx="215.4" cy="355.9" r="3.3"/>
<circle cx="219.3" cy="352.9" r="3.3"/>
<circle cx="223.2" cy="354.9" r="3.3"/>
</g>
<polyline fill="none" stroke="#000" stroke-width="1" points="125.0,444.5 130.0,441.2 135.0,437.7 140.1,434.0 145.1,430.1 150.1,425.9 155.1,421.4 160.1,416.6 165.1,411.4 170.2,406.0 175.2,400.2 180.2,394.0 185.2,387.4 190.2,380.4 195.2,372.9 200.2,364.9 205.3,356.3 210.3,347.2 215.3,337.5 220.3,327.2 225.3,316.2 230.4,304.5 235.4,292.0 240.4,278.6 245.4,264.4"/>
<polyline fill="none" stroke="#000" stroke-width="1" points="138.0,429.0 142.1,426.6 146.3,424.1 150.4,421.5 154.6,418.9 158.7,416.1 162.8,413.2 167.0,410.2 171.1,407.2 175.3,404.0 179.4,400.6 183.6,397.2 187.7,393.6 191.8,389.9 196.0,386.1 200.1,382.1 204.3,378.0 208.4,373.7 212.6,369.3 216.7,364.7 220.8,359.9 225.0,355.0 229.1,349.8 233.3,344.5 237.4,339.0"/>
</g>
<g id="sep">
<g fill="#000">
<circle cx="420.2" cy="363.0" r="3.9"/>
<circle cx="423.2" cy="370.8" r="3.9"/>
<circle cx="441.7" cy="371.2" r="3.9"/>
<circle cx="443.7" cy="374.7" r="3.9"/>
<circle cx="430.0" cy="376.7" r="3.9"/>
<circle cx="419.3" cy="382.0" r="3.9"/>
<circle cx="430.0" cy="392.7" r="3.9"/>
<circle cx="431.0" cy="396.6" r="3.9"/>
<circle cx="451.5" cy="405.4" r="3.9"/>
<circle cx="456.9" cy="400.1" r="3.9"/>
<circle cx="440.1" cy="412.6" r="3.9"/>
<circle cx="419.3" cy="412.6" r="3.9"/>
<circle cx="462.8" cy="415.1" r="3.9"/>
<circle cx="467.1" cy="411.2" r="3.9"/>
<circle cx="467.1" cy="418.0" r="3.9"/>
<circle cx="473.9" cy="419.0" r="3.9"/>
<circle cx="478.8" cy="419.6" r="3.9"/>
<circle cx="485.0" cy="416.5" r="3.9"/>
<circle cx="472.9" cy="426.8" r="3.9"/>
<circle cx="467.1" cy="430.1" r="3.9"/>
<circle cx="460.6" cy="435.2" r="3.9"/>
<circle cx="448.5" cy="424.9" r="3.9"/>
<circle cx="435.9" cy="432.7" r="3.9"/>
<circle cx="370.5" cy="483.2" r="3.9"/>
<circle cx="371.9" cy="486.5" r="3.9"/>
<circle cx="374.4" cy="489.6" r="3.9"/>
<circle cx="377.3" cy="467.6" r="3.9"/>
<circle cx="381.2" cy="471.5" r="3.9"/>
<circle cx="388.0" cy="472.0" r="3.9"/>
<circle cx="393.9" cy="473.4" r="3.9"/>
<circle cx="392.0" cy="462.7" r="3.9"/>
<circle cx="401.7" cy="461.1" r="3.9"/>
<circle cx="393.9" cy="454.9" r="3.9"/>
<circle cx="418.3" cy="454.5" r="3.9"/>
<circle cx="414.4" cy="451.0" r="3.9"/>
<circle cx="431.0" cy="479.3" r="3.9"/>
<circle cx="434.9" cy="478.3" r="3.9"/>
<circle cx="433.9" cy="483.8" r="3.9"/>
<circle cx="443.7" cy="473.4" r="3.9"/>
<circle cx="448.5" cy="481.2" r="3.9"/>
<circle cx="450.5" cy="470.5" r="3.9"/>
<circle cx="456.3" cy="474.4" r="3.9"/>
<circle cx="459.3" cy="481.8" r="3.9"/>
<circle cx="465.5" cy="481.2" r="3.9"/>
<circle cx="462.2" cy="464.6" r="3.9"/>
<circle cx="468.6" cy="463.7" r="3.9"/>
<circle cx="456.3" cy="461.7" r="3.9"/>
<circle cx="461.6" cy="457.8" r="3.9"/>
<circle cx="462.2" cy="452.9" r="3.9"/>
<circle cx="452.4" cy="452.0" r="3.9"/>
<circle cx="476.8" cy="455.3" r="3.9"/>
<circle cx="447.6" cy="457.8" r="3.9"/>
<circle cx="443.7" cy="461.1" r="3.9"/>
<circle cx="456.3" cy="466.6" r="3.9"/>
<circle cx="392.9" cy="439.3" r="3.9"/>
<circle cx="397.8" cy="442.2" r="3.9"/>
<circle cx="402.7" cy="439.3" r="3.9"/>
<circle cx="407.6" cy="442.2" r="3.9"/>
<circle cx="412.4" cy="439.3" r="3.9"/>
<circle cx="394.9" cy="447.1" r="3.9"/>
<circle cx="400.7" cy="448.0" r="3.9"/>
<circle cx="406.6" cy="447.1" r="3.9"/>
<circle cx="411.5" cy="446.1" r="3.9"/>
<circle cx="397.8" cy="452.0" r="3.9"/>
<circle cx="404.6" cy="452.0" r="3.9"/>
<circle cx="391.0" cy="450.0" r="3.9"/>
<circle cx="408.5" cy="436.3" r="3.9"/>
<circle cx="416.3" cy="437.3" r="3.9"/>
<circle cx="424.1" cy="441.2" r="3.9"/>
<circle cx="430.0" cy="443.2" r="3.9"/>
<circle cx="432.0" cy="437.3" r="3.9"/>
<circle cx="435.9" cy="433.4" r="3.9"/>
<circle cx="426.1" cy="445.1" r="3.9"/>
<circle cx="391.0" cy="457.8" r="3.9"/>
<circle cx="386.1" cy="466.6" r="3.9"/>
<circle cx="398.8" cy="445.1" r="3.9"/>
<circle cx="403.7" cy="444.1" r="3.9"/>
<circle cx="419.2" cy="381.5" r="3.9"/>
<circle cx="420.0" cy="412.5" r="3.9"/>
<circle cx="427.0" cy="373.7" r="3.9"/>
</g>
<g fill="#fff" stroke="#000" stroke-width="1">
<circle cx="463.6" cy="344.3" r="3.3"/>
<circle cx="465.5" cy="344.9" r="3.3"/>
<circle cx="471.0" cy="354.6" r="3.3"/>
<circle cx="473.3" cy="358.5" r="3.3"/>
<circle cx="475.3" cy="363.0" r="3.3"/>
<circle cx="466.7" cy="379.0" r="3.3"/>
<circle cx="464.1" cy="383.3" r="3.3"/>
<circle cx="457.3" cy="395.0" r="3.3"/>
<circle cx="425.5" cy="365.8" r="3.3"/>
<circle cx="425.7" cy="378.0" r="3.3"/>
<circle cx="426.7" cy="385.3" r="3.3"/>
<circle cx="418.7" cy="391.7" r="3.3"/>
<circle cx="403.1" cy="396.2" r="3.3"/>
<circle cx="396.8" cy="399.5" r="3.3"/>
<circle cx="401.7" cy="402.4" r="3.3"/>
<circle cx="397.8" cy="405.4" r="3.3"/>
<circle cx="394.5" cy="409.9" r="3.3"/>
<circle cx="390.6" cy="416.1" r="3.3"/>
<circle cx="415.4" cy="400.5" r="3.3"/>
<circle cx="414.8" cy="407.3" r="3.3"/>
<circle cx="425.7" cy="397.6" r="3.3"/>
<circle cx="425.7" cy="405.4" r="3.3"/>
<circle cx="436.8" cy="399.5" r="3.3"/>
<circle cx="432.9" cy="404.4" r="3.3"/>
<circle cx="413.4" cy="415.1" r="3.3"/>
<circle cx="421.2" cy="420.0" r="3.3"/>
<circle cx="426.7" cy="417.1" r="3.3"/>
<circle cx="401.7" cy="417.1" r="3.3"/>
<circle cx="397.8" cy="424.9" r="3.3"/>
<circle cx="384.1" cy="423.9" r="3.3"/>
<circle cx="386.1" cy="430.1" r="3.3"/>
<circle cx="379.3" cy="430.7" r="3.3"/>
<circle cx="378.3" cy="437.6" r="3.3"/>
<circle cx="388.0" cy="437.2" r="3.3"/>
<circle cx="375.4" cy="441.5" r="3.3"/>
<circle cx="401.7" cy="430.7" r="3.3"/>
<circle cx="411.5" cy="425.9" r="3.3"/>
<circle cx="418.3" cy="426.8" r="3.3"/>
<circle cx="429.0" cy="430.1" r="3.3"/>
<circle cx="433.9" cy="424.9" r="3.3"/>
<circle cx="436.8" cy="422.0" r="3.3"/>
<circle cx="438.8" cy="419.6" r="3.3"/>
<circle cx="443.7" cy="422.9" r="3.3"/>
<circle cx="449.5" cy="420.0" r="3.3"/>
<circle cx="494.3" cy="318.1" r="3.3"/>
<circle cx="489.1" cy="330.7" r="3.3"/>
<circle cx="484.4" cy="339.1" r="3.3"/>
<circle cx="364.6" cy="447.1" r="3.3"/>
<circle cx="367.6" cy="444.7" r="3.3"/>
<circle cx="360.7" cy="461.7" r="3.3"/>
<circle cx="362.7" cy="457.8" r="3.3"/>
<circle cx="360.7" cy="467.6" r="3.3"/>
<circle cx="373.4" cy="461.7" r="3.3"/>
<circle cx="376.3" cy="459.8" r="3.3"/>
<circle cx="386.1" cy="456.8" r="3.3"/>
<circle cx="387.1" cy="462.3" r="3.3"/>
<circle cx="400.7" cy="455.3" r="3.3"/>
<circle cx="408.1" cy="462.3" r="3.3"/>
<circle cx="376.3" cy="445.1" r="3.3"/>
<circle cx="375.4" cy="450.0" r="3.3"/>
<circle cx="379.3" cy="450.0" r="3.3"/>
<circle cx="384.1" cy="449.0" r="3.3"/>
<circle cx="403.7" cy="479.3" r="3.3"/>
<circle cx="406.6" cy="483.2" r="3.3"/>
<circle cx="409.5" cy="474.4" r="3.3"/>
<circle cx="413.4" cy="475.4" r="3.3"/>
<circle cx="419.3" cy="474.4" r="3.3"/>
<circle cx="419.9" cy="480.6" r="3.3"/>
<circle cx="429.6" cy="470.5" r="3.3"/>
<circle cx="432.9" cy="465.6" r="3.3"/>
<circle cx="437.8" cy="465.6" r="3.3"/>
<circle cx="438.8" cy="481.8" r="3.3"/>
<circle cx="449.9" cy="464.2" r="3.3"/>
<circle cx="427.1" cy="457.8" r="3.3"/>
<circle cx="432.0" cy="453.9" r="3.3"/>
<circle cx="437.8" cy="456.8" r="3.3"/>
<circle cx="426.1" cy="452.0" r="3.3"/>
<circle cx="419.3" cy="449.0" r="3.3"/>
<circle cx="415.4" cy="444.1" r="3.3"/>
<circle cx="418.3" cy="440.2" r="3.3"/>
<circle cx="379.3" cy="429.5" r="3.3"/>
<circle cx="385.1" cy="428.5" r="3.3"/>
<circle cx="390.0" cy="431.5" r="3.3"/>
<circle cx="377.3" cy="436.3" r="3.3"/>
<circle cx="382.2" cy="439.3" r="3.3"/>
<circle cx="388.0" cy="437.3" r="3.3"/>
<circle cx="384.1" cy="423.7" r="3.3"/>
<circle cx="391.0" cy="421.7" r="3.3"/>
<circle cx="396.8" cy="424.6" r="3.3"/>
<circle cx="393.9" cy="415.9" r="3.3"/>
<circle cx="401.7" cy="416.8" r="3.3"/>
<circle cx="401.7" cy="429.5" r="3.3"/>
<circle cx="410.5" cy="424.6" r="3.3"/>
<circle cx="413.4" cy="415.9" r="3.3"/>
<circle cx="421.2" cy="419.8" r="3.3"/>
<circle cx="426.1" cy="417.8" r="3.3"/>
<circle cx="430.0" cy="429.5" r="3.3"/>
<circle cx="433.9" cy="424.6" r="3.3"/>
<circle cx="436.8" cy="420.7" r="3.3"/>
<circle cx="443.7" cy="423.7" r="3.3"/>
<circle cx="449.5" cy="419.4" r="3.3"/>
<circle cx="396.8" cy="412.9" r="3.3"/>
<circle cx="389.0" cy="415.9" r="3.3"/>
<circle cx="381.2" cy="433.4" r="3.3"/>
<circle cx="373.4" cy="439.3" r="3.3"/>
<circle cx="371.5" cy="442.2" r="3.3"/>
<circle cx="379.3" cy="443.2" r="3.3"/>
<circle cx="385.1" cy="442.2" r="3.3"/>
<circle cx="389.0" cy="444.1" r="3.3"/>
<circle cx="417.3" cy="442.2" r="3.3"/>
<circle cx="420.2" cy="439.3" r="3.3"/>
<circle cx="408.5" cy="420.0" r="3.3"/>
<circle cx="412.4" cy="431.7" r="3.3"/>
<circle cx="406.6" cy="435.6" r="3.3"/>
<circle cx="398.8" cy="433.7" r="3.3"/>
<circle cx="392.9" cy="431.7" r="3.3"/>
<circle cx="392.0" cy="423.9" r="3.3"/>
<circle cx="394.9" cy="419.0" r="3.3"/>
<circle cx="419.3" cy="404.4" r="3.3"/>
<circle cx="420.2" cy="410.2" r="3.3"/>
<circle cx="416.3" cy="396.6" r="3.3"/>
<circle cx="432.0" cy="414.1" r="3.3"/>
<circle cx="431.0" cy="420.0" r="3.3"/>
<circle cx="424.1" cy="426.8" r="3.3"/>
<circle cx="420.2" cy="431.7" r="3.3"/>
<circle cx="426.1" cy="433.7" r="3.3"/>
<circle cx="395.9" cy="439.5" r="3.3"/>
<circle cx="389.0" cy="443.4" r="3.3"/>
<circle cx="381.2" cy="435.6" r="3.3"/>
<circle cx="374.4" cy="446.3" r="3.3"/>
<circle cx="369.5" cy="448.3" r="3.3"/>
<circle cx="382.2" cy="443.4" r="3.3"/>
<circle cx="364.6" cy="447.3" r="3.3"/>
<circle cx="367.6" cy="444.4" r="3.3"/>
</g>
<polyline fill="none" stroke="#000" stroke-width="1" points="391.4,446.6 395.3,446.0 399.2,445.3 403.1,444.7 407.0,444.0 410.9,443.3 414.8,442.7 418.7,442.0 422.6,441.3 426.5,440.6 430.4,439.9 434.3,439.1 438.2,438.4 442.1,437.7 446.0,436.9 449.9,436.1 453.8,435.4 457.7,434.6 461.6,433.8 465.5,433.0 469.4,432.2 473.3,431.3 477.2,430.5 481.1,429.7 485.0,428.8"/>
</g>
<g id="oct">
<g fill="#000">
<circle cx="666.3" cy="455.6" r="3.9"/>
<circle cx="667.3" cy="462.4" r="3.9"/>
<circle cx="662.4" cy="467.3" r="3.9"/>
<circle cx="657.6" cy="471.2" r="3.9"/>
<circle cx="653.7" cy="475.1" r="3.9"/>
<circle cx="647.8" cy="474.1" r="3.9"/>
<circle cx="661.5" cy="477.1" r="3.9"/>
<circle cx="669.3" cy="478.0" r="3.9"/>
<circle cx="668.3" cy="486.8" r="3.9"/>
<circle cx="660.5" cy="485.9" r="3.9"/>
<circle cx="653.7" cy="483.9" r="3.9"/>
<circle cx="646.8" cy="484.9" r="3.9"/>
<circle cx="643.9" cy="493.3" r="3.9"/>
<circle cx="682.9" cy="472.6" r="3.9"/>
<circle cx="679.0" cy="473.8" r="3.9"/>
<circle cx="632.2" cy="485.9" r="3.9"/>
<circle cx="628.3" cy="489.8" r="3.9"/>
<circle cx="623.4" cy="488.8" r="3.9"/>
<circle cx="624.4" cy="492.7" r="3.9"/>
<circle cx="632.2" cy="492.7" r="3.9"/>
<circle cx="610.7" cy="492.7" r="3.9"/>
<circle cx="598.0" cy="493.3" r="3.9"/>
<circle cx="595.1" cy="479.0" r="3.9"/>
<circle cx="608.8" cy="464.4" r="3.9"/>
<circle cx="585.4" cy="491.7" r="3.9"/>
<circle cx="578.5" cy="492.1" r="3.9"/>
<circle cx="571.7" cy="492.7" r="3.9"/>
<circle cx="646.8" cy="479.0" r="3.9"/>
<circle cx="655.6" cy="479.0" r="3.9"/>
<circle cx="649.8" cy="488.8" r="3.9"/>
<circle cx="657.6" cy="465.4" r="3.9"/>
<circle cx="663.4" cy="462.4" r="3.9"/>
<circle cx="665.4" cy="470.2" r="3.9"/>
<circle cx="659.5" cy="475.1" r="3.9"/>
<circle cx="651.7" cy="480.0" r="3.9"/>
<circle cx="657.6" cy="482.0" r="3.9"/>
<circle cx="663.4" cy="482.0" r="3.9"/>
<circle cx="642.0" cy="485.9" r="3.9"/>
<circle cx="638.0" cy="487.8" r="3.9"/>
<circle cx="618.5" cy="491.7" r="3.9"/>
<circle cx="604.9" cy="492.1" r="3.9"/>
<circle cx="591.2" cy="492.7" r="3.9"/>
<circle cx="665.4" cy="458.5" r="3.9"/>
<circle cx="650.7" cy="471.2" r="3.9"/>
<circle cx="645.9" cy="488.8" r="3.9"/>
<circle cx="655.6" cy="486.8" r="3.9"/>
<circle cx="661.5" cy="471.2" r="3.9"/>
<circle cx="634.1" cy="482.0" r="3.9"/>
<circle cx="638.0" cy="482.9" r="3.9"/>
<circle cx="642.0" cy="480.0" r="3.9"/>
<circle cx="645.9" cy="482.0" r="3.9"/>
<circle cx="618.5" cy="487.8" r="3.9"/>
<circle cx="614.6" cy="489.8" r="3.9"/>
<circle cx="606.8" cy="489.8" r="3.9"/>
<circle cx="601.0" cy="490.7" r="3.9"/>
<circle cx="595.1" cy="489.8" r="3.9"/>
<circle cx="589.3" cy="490.7" r="3.9"/>
<circle cx="583.4" cy="490.1" r="3.9"/>
<circle cx="651.7" cy="485.9" r="3.9"/>
<circle cx="657.6" cy="487.8" r="3.9"/>
<circle cx="663.4" cy="488.8" r="3.9"/>
<circle cx="665.4" cy="482.0" r="3.9"/>
<circle cx="657.6" cy="478.0" r="3.9"/>
<circle cx="651.7" cy="477.1" r="3.9"/>
<circle cx="664.4" cy="465.4" r="3.9"/>
<circle cx="659.5" cy="468.3" r="3.9"/>
<circle cx="666.3" cy="467.3" r="3.9"/>
</g>
<g fill="#fff" stroke="#000" stroke-width="1">
<circle cx="655.2" cy="421.5" r="3.3"/>
<circle cx="660.5" cy="425.8" r="3.3"/>
<circle cx="639.4" cy="425.4" r="3.3"/>
<circle cx="644.3" cy="434.7" r="3.3"/>
<circle cx="637.1" cy="437.1" r="3.3"/>
<circle cx="648.8" cy="438.0" r="3.3"/>
<circle cx="655.6" cy="434.7" r="3.3"/>
<circle cx="657.6" cy="432.2" r="3.3"/>
<circle cx="621.5" cy="441.0" r="3.3"/>
<circle cx="625.4" cy="446.4" r="3.3"/>
<circle cx="607.8" cy="445.9" r="3.3"/>
<circle cx="606.2" cy="452.3" r="3.3"/>
<circle cx="585.8" cy="458.9" r="3.3"/>
<circle cx="596.1" cy="460.5" r="3.3"/>
<circle cx="592.2" cy="464.4" r="3.3"/>
<circle cx="601.0" cy="463.4" r="3.3"/>
<circle cx="606.8" cy="461.5" r="3.3"/>
<circle cx="606.8" cy="467.3" r="3.3"/>
<circle cx="566.8" cy="477.7" r="3.3"/>
<circle cx="586.3" cy="471.8" r="3.3"/>
<circle cx="587.3" cy="479.0" r="3.3"/>
<circle cx="599.0" cy="472.2" r="3.3"/>
<circle cx="603.9" cy="474.1" r="3.3"/>
<circle cx="617.6" cy="469.3" r="3.3"/>
<circle cx="623.4" cy="463.4" r="3.3"/>
<circle cx="626.3" cy="455.6" r="3.3"/>
<circle cx="633.2" cy="453.7" r="3.3"/>
<circle cx="636.1" cy="447.8" r="3.3"/>
<circle cx="642.0" cy="445.3" r="3.3"/>
<circle cx="642.9" cy="451.7" r="3.3"/>
<circle cx="650.7" cy="445.9" r="3.3"/>
<circle cx="656.6" cy="442.0" r="3.3"/>
<circle cx="661.5" cy="446.8" r="3.3"/>
<circle cx="668.3" cy="441.0" r="3.3"/>
<circle cx="677.1" cy="436.7" r="3.3"/>
<circle cx="682.0" cy="440.6" r="3.3"/>
<circle cx="674.1" cy="457.0" r="3.3"/>
<circle cx="659.5" cy="455.6" r="3.3"/>
<circle cx="654.6" cy="465.4" r="3.3"/>
<circle cx="649.8" cy="469.3" r="3.3"/>
<circle cx="643.9" cy="463.4" r="3.3"/>
<circle cx="638.0" cy="470.2" r="3.3"/>
<circle cx="633.2" cy="473.2" r="3.3"/>
<circle cx="626.3" cy="474.1" r="3.3"/>
<circle cx="620.5" cy="479.0" r="3.3"/>
<circle cx="633.2" cy="479.0" r="3.3"/>
<circle cx="605.9" cy="483.5" r="3.3"/>
<circle cx="599.0" cy="484.9" r="3.3"/>
<circle cx="593.2" cy="485.9" r="3.3"/>
<circle cx="582.4" cy="487.8" r="3.3"/>
<circle cx="574.6" cy="488.8" r="3.3"/>
<circle cx="566.8" cy="490.7" r="3.3"/>
<circle cx="562.9" cy="493.7" r="3.3"/>
<circle cx="617.0" cy="491.7" r="3.3"/>
<circle cx="609.8" cy="487.8" r="3.3"/>
<circle cx="638.0" cy="456.6" r="3.3"/>
<circle cx="645.9" cy="457.6" r="3.3"/>
<circle cx="632.2" cy="462.4" r="3.3"/>
<circle cx="678.0" cy="467.3" r="3.3"/>
<circle cx="628.3" cy="467.3" r="3.3"/>
<circle cx="611.7" cy="470.2" r="3.3"/>
<circle cx="569.8" cy="483.9" r="3.3"/>
<circle cx="562.9" cy="486.8" r="3.3"/>
<circle cx="653.7" cy="450.7" r="3.3"/>
<circle cx="647.8" cy="452.7" r="3.3"/>
<circle cx="651.7" cy="458.5" r="3.3"/>
<circle cx="618.5" cy="476.1" r="3.3"/>
<circle cx="612.7" cy="478.0" r="3.3"/>
<circle cx="624.4" cy="468.3" r="3.3"/>
<circle cx="640.0" cy="465.4" r="3.3"/>
<circle cx="646.8" cy="466.3" r="3.3"/>
<circle cx="579.5" cy="485.9" r="3.3"/>
<circle cx="563.9" cy="489.8" r="3.3"/>
<circle cx="561.6" cy="491.7" r="3.3"/>
<circle cx="605.8" cy="483.1" r="3.3"/>
<circle cx="611.1" cy="481.0" r="3.3"/>
<circle cx="616.3" cy="491.5" r="3.3"/>
<circle cx="622.7" cy="478.9" r="3.3"/>
<circle cx="628.0" cy="475.7" r="3.3"/>
<circle cx="633.3" cy="477.8" r="3.3"/>
<circle cx="618.5" cy="481.0" r="3.3"/>
<circle cx="636.4" cy="470.4" r="3.3"/>
<circle cx="639.6" cy="471.4" r="3.3"/>
<circle cx="630.1" cy="471.4" r="3.3"/>
<circle cx="624.8" cy="473.6" r="3.3"/>
<circle cx="593.1" cy="486.3" r="3.3"/>
<circle cx="598.4" cy="484.1" r="3.3"/>
<circle cx="586.7" cy="487.3" r="3.3"/>
<circle cx="581.4" cy="488.4" r="3.3"/>
<circle cx="575.1" cy="489.0" r="3.3"/>
<circle cx="601.5" cy="478.9" r="3.3"/>
<circle cx="607.9" cy="476.7" r="3.3"/>
<circle cx="613.2" cy="473.6" r="3.3"/>
<circle cx="593.1" cy="479.9" r="3.3"/>
<circle cx="587.8" cy="483.1" r="3.3"/>
<circle cx="569.8" cy="489.4" r="3.3"/>
<circle cx="648.1" cy="469.3" r="3.3"/>
<circle cx="654.4" cy="465.1" r="3.3"/>
<circle cx="643.9" cy="473.6" r="3.3"/>
</g>
<polyline fill="none" stroke="#000" stroke-width="1" points="563.5,484.0 568.4,483.2 573.4,482.3 578.3,481.3 583.2,480.3 588.2,479.2 593.1,478.0 598.1,476.7 603.0,475.2 607.9,473.7 612.9,472.0 617.8,470.3 622.8,468.3 627.7,466.2 632.6,463.9 637.6,461.5 642.5,458.8 647.4,455.9 652.4,452.8 657.3,449.5 662.2,445.8 667.2,441.9 672.1,437.6 677.1,433.0 682.0,428.0"/>
<polyline fill="none" stroke="#000" stroke-width="1" points="563.5,490.6 568.5,490.3 573.5,489.9 578.4,489.5 583.4,489.1 588.4,488.6 593.4,488.1 598.4,487.6 603.3,487.0 608.3,486.3 613.3,485.6 618.3,484.8 623.2,483.9 628.2,482.9 633.2,481.9 638.2,480.7 643.2,479.5 648.1,478.1 653.1,476.6 658.1,474.9 663.1,473.1 668.1,471.1 673.0,469.0 678.0,466.6 683.0,464.0"/>
</g>
<g fill="none" stroke="#222" stroke-width="1">
<rect x="55.5" y="5.5" width="761.8" height="508.0"/>
<path d="M309.5 5.5V513.5M563.5 5.5V513.5M55.5 259.5H817.3"/>
</g>
<path fill="none" stroke="#222" stroke-width="0.8" d="M128.00 259.5v-8M200.50 259.5v-8M273.00 259.5v-8M55.5 240.00h8M55.5 161.83h8M55.5 83.66h8M128.00 513.5v-8M200.50 513.5v-8M273.00 513.5v-8M55.5 494.00h8M55.5 415.83h8M55.5 337.66h8M382.00 259.5v-8M454.50 259.5v-8M527.00 259.5v-8M309.5 240.00h8M309.5 161.83h8M309.5 83.66h8M382.00 513.5v-8M454.50 513.5v-8M527.00 513.5v-8M309.5 494.00h8M309.5 415.83h8M309.5 337.66h8M636.00 259.5v-8M708.50 259.5v-8M781.00 259.5v-8M563.5 240.00h8M563.5 161.83h8M563.5 83.66h8M636.00 513.5v-8M708.50 513.5v-8M781.00 513.5v-8M563.5 494.00h8M563.5 415.83h8M563.5 337.66h8"/>
<text transform="translate(55.5 535) scale(1 1.05)" font-size="15.3" text-anchor="middle" stroke="#000" stroke-width="0.25">0</text>
<text transform="translate(128.0 535) scale(1 1.05)" font-size="15.3" text-anchor="middle" stroke="#000" stroke-width="0.25">10</text>
<text transform="translate(200.5 535) scale(1 1.05)" font-size="15.3" text-anchor="middle" stroke="#000" stroke-width="0.25">20</text>
<text transform="translate(273.0 535) scale(1 1.05)" font-size="15.3" text-anchor="middle" stroke="#000" stroke-width="0.25">30</text>
<text transform="translate(309.5 535) scale(1 1.05)" font-size="15.3" text-anchor="middle" stroke="#000" stroke-width="0.25">0</text>
<text transform="translate(382.0 535) scale(1 1.05)" font-size="15.3" text-anchor="middle" stroke="#000" stroke-width="0.25">10</text>
<text transform="translate(454.5 535) scale(1 1.05)" font-size="15.3" text-anchor="middle" stroke="#000" stroke-width="0.25">20</text>
<text transform="translate(527.0 535) scale(1 1.05)" font-size="15.3" text-anchor="middle" stroke="#000" stroke-width="0.25">30</text>
<text transform="translate(563.5 535) scale(1 1.05)" font-size="15.3" text-anchor="middle" stroke="#000" stroke-width="0.25">0</text>
<text transform="translate(636.0 535) scale(1 1.05)" font-size="15.3" text-anchor="middle" stroke="#000" stroke-width="0.25">10</text>
<text transform="translate(708.5 535) scale(1 1.05)" font-size="15.3" text-anchor="middle" stroke="#000" stroke-width="0.25">20</text>
<text transform="translate(781.0 535) scale(1 1.05)" font-size="15.3" text-anchor="middle" stroke="#000" stroke-width="0.25">30</text>
<text transform="translate(47.6 245.6) scale(1 1.05)" font-size="15.3" text-anchor="end" stroke="#000" stroke-width="0.25">0</text>
<text transform="translate(47.6 167.4) scale(1 1.05)" font-size="15.3" text-anchor="end" stroke="#000" stroke-width="0.25">1</text>
<text transform="translate(47.6 89.3) scale(1 1.05)" font-size="15.3" text-anchor="end" stroke="#000" stroke-width="0.25">2</text>
<text transform="translate(47.6 11.1) scale(1 1.05)" font-size="15.3" text-anchor="end" stroke="#000" stroke-width="0.25">3</text>
<text transform="translate(47.6 499.6) scale(1 1.05)" font-size="15.3" text-anchor="end" stroke="#000" stroke-width="0.25">0</text>
<text transform="translate(47.6 421.4) scale(1 1.05)" font-size="15.3" text-anchor="end" stroke="#000" stroke-width="0.25">1</text>
<text transform="translate(47.6 343.3) scale(1 1.05)" font-size="15.3" text-anchor="end" stroke="#000" stroke-width="0.25">2</text>
<text transform="translate(47.6 265.6) scale(1 1.05)" font-size="15.3" text-anchor="end" stroke="#000" stroke-width="0.25">3</text>
<text transform="translate(63.1 32)" font-size="18" text-anchor="start" stroke="#000" stroke-width="0.25">May</text>
<text transform="translate(318 32.3)" font-size="17.8" text-anchor="start" stroke="#000" stroke-width="0.25">June</text>
<text transform="translate(573.1 32.4)" font-size="18" text-anchor="start" stroke="#000" stroke-width="0.25">July</text>
<text transform="translate(66.4 287.5)" font-size="17.55" text-anchor="start" stroke="#000" stroke-width="0.25">August</text>
<text transform="translate(319.9 285.4)" font-size="17.6" text-anchor="start" stroke="#000" stroke-width="0.25">September</text>
<text transform="translate(574 287.4)" font-size="17.55" text-anchor="start" stroke="#000" stroke-width="0.25">October</text>
<circle cx="348.8" cy="56.5" r="3.8"/>
<circle cx="348.8" cy="78.7" r="3.3" fill="#fff" stroke="#000" stroke-width="1"/>
<text transform="translate(379.3 63.3)" font-size="17.7" text-anchor="start" stroke="#000" stroke-width="0.25">Fenced</text>
<text transform="translate(379.3 86)" font-size="17.7" text-anchor="start" stroke="#000" stroke-width="0.25">Grazed</text>
<text transform="translate(239.4 155.3)" font-size="16.5" text-anchor="start" stroke="#000" stroke-width="0.25">GS=2.55</text>
<text transform="translate(241 214.7)" font-size="16.5" text-anchor="start" stroke="#000" stroke-width="0.25">FS=1.22</text>
<text transform="translate(311.9 183.5)" font-size="16.5" text-anchor="start" stroke="#000" stroke-width="0.25">GS=1.03</text>
<text transform="translate(313.4 224.8)" font-size="16.5" text-anchor="start" stroke="#000" stroke-width="0.25">FS=1.21</text>
<text transform="translate(669.3 187.5)" font-size="16.5" text-anchor="end" stroke="#000" stroke-width="0.25">GS=1.00</text>
<text transform="translate(669.3 225.6)" font-size="16.5" text-anchor="end" stroke="#000" stroke-width="0.25">FS=1.00</text>
<text transform="translate(308 304.7)" font-size="16.5" text-anchor="end" stroke="#000" stroke-width="0.25">GS=2.51</text>
<text transform="translate(308.3 349.9)" font-size="16.5" text-anchor="end" stroke="#000" stroke-width="0.25">FS=1.75</text>
<text transform="translate(561.2 368.5)" font-size="16.5" text-anchor="end" stroke="#000" stroke-width="0.25">GS=2.08</text>
<text transform="translate(561.2 439.6)" font-size="16.5" text-anchor="end" stroke="#000" stroke-width="0.25">FS=1.29</text>
<text transform="translate(759.3 430)" font-size="16.5" text-anchor="end" stroke="#000" stroke-width="0.25">GS=3.21</text>
<text transform="translate(760.7 473)" font-size="16.5" text-anchor="end" stroke="#000" stroke-width="0.25">FS=3.74</text>
<text x="436.2" y="563.2" font-size="17.7" text-anchor="middle" stroke="#000" stroke-width="0.25">Soil temperature (<tspan font-size="12" dy="-6.5">o</tspan><tspan dy="6.5">C)</tspan></text>
<text transform="translate(18.5 273) rotate(-90) scale(0.924 1)" font-size="19" text-anchor="middle" stroke="#000" stroke-width="0.25">Re (µmol CO<tspan font-size="12.5" dy="4.5">2</tspan><tspan dy="-4.5"> m</tspan><tspan font-size="12.5" dy="-9">-2</tspan><tspan dy="9"> s</tspan><tspan font-size="12.5" dy="-9">-1</tspan><tspan dy="9">)</tspan></text>
</svg>
</body></html>
